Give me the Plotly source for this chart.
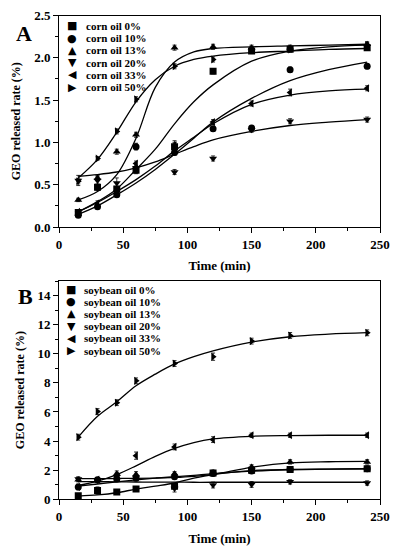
import plotly.graph_objects as go

# ---------------- data ----------------
TIME = [15, 30, 45, 60, 90, 120, 150, 180, 240]
CURVE_T = [15, 30, 45, 60, 75, 90, 105, 120, 150, 180, 210, 240]

LEVELS = ["0%", "10%", "13%", "20%", "33%", "50%"]
SYMBOLS = ["square", "circle", "triangle-up", "triangle-down", "triangle-left", "triangle-right"]
GLYPHS = ["\u25A0", "\u25CF", "\u25B2", "\u25BC", "\u25C0", "\u25B6"]

# Panel A: corn oil
corn_0 = [0.17, 0.47, 0.45, 0.67, 0.95, 1.84, 2.08, 2.10, 2.12]
corn_10 = [0.14, 0.24, 0.38, 0.95, 0.88, 1.16, 1.17, 1.86, 1.90]
corn_13 = [0.32, 0.58, 0.89, 1.09, 2.12, 2.13, 2.12, 2.12, 2.16]
corn_20 = [0.55, 0.55, 0.52, 0.70, 0.65, 0.81, 1.15, 1.25, 1.27]
corn_33 = [0.18, 0.28, 0.43, 0.75, 0.97, 1.24, 1.46, 1.59, 1.64]
corn_50 = [0.54, 0.81, 1.13, 1.51, 1.90, 1.98, 2.10, 2.10, 2.15]

corn_err_0 = [0.02, 0.04, 0.03, 0.04, 0.07, 0.03, 0.03, 0.03, 0.03]
corn_err_10 = [0.02, 0.02, 0.02, 0.04, 0.03, 0.03, 0.03, 0.03, 0.03]
corn_err_13 = [0.02, 0.03, 0.03, 0.03, 0.03, 0.03, 0.03, 0.03, 0.03]
corn_err_20 = [0.06, 0.05, 0.06, 0.03, 0.03, 0.03, 0.03, 0.03, 0.03]
corn_err_33 = [0.02, 0.03, 0.05, 0.03, 0.03, 0.03, 0.03, 0.04, 0.03]
corn_err_50 = [0.03, 0.02, 0.03, 0.03, 0.03, 0.03, 0.03, 0.03, 0.03]

fit_corn_0 = [0.18, 0.30, 0.45, 0.68, 0.92, 1.22, 1.48, 1.68, 1.96, 2.08, 2.13, 2.15]
fit_corn_10 = [0.15, 0.25, 0.38, 0.52, 0.68, 0.86, 1.05, 1.24, 1.52, 1.73, 1.86, 1.95]
fit_corn_13 = [0.32, 0.42, 0.62, 1.05, 1.65, 1.95, 2.07, 2.11, 2.13, 2.14, 2.15, 2.16]
fit_corn_20 = [0.60, 0.62, 0.65, 0.70, 0.77, 0.86, 0.95, 1.03, 1.13, 1.20, 1.24, 1.27]
fit_corn_33 = [0.18, 0.29, 0.42, 0.56, 0.72, 0.90, 1.06, 1.22, 1.45, 1.56, 1.61, 1.63]
fit_corn_50 = [0.58, 0.80, 1.12, 1.48, 1.74, 1.90, 1.98, 2.02, 2.06, 2.08, 2.10, 2.11]

# Panel B: soybean oil
soy_0 = [0.25, 0.60, 0.50, 0.70, 0.90, 1.80, 2.00, 2.05, 2.10]
soy_10 = [0.85, 1.35, 1.40, 1.45, 1.55, 1.77, 1.95, 2.05, 2.10]
soy_13 = [1.35, 1.30, 1.75, 1.70, 1.75, 1.85, 2.22, 2.57, 2.57]
soy_20 = [1.40, 1.30, 1.55, 1.50, 0.75, 0.98, 1.02, 1.20, 1.12]
soy_33 = [0.85, 1.35, 1.60, 3.00, 3.60, 4.10, 4.40, 4.40, 4.40]
soy_50 = [4.27, 6.03, 6.64, 8.14, 9.33, 9.80, 10.87, 11.26, 11.44]

soy_err_0 = [0.15, 0.25, 0.15, 0.15, 0.15, 0.15, 0.15, 0.15, 0.15]
soy_err_10 = [0.15, 0.15, 0.15, 0.15, 0.15, 0.15, 0.15, 0.15, 0.15]
soy_err_13 = [0.15, 0.15, 0.20, 0.20, 0.15, 0.15, 0.15, 0.15, 0.15]
soy_err_20 = [0.15, 0.15, 0.15, 0.15, 0.25, 0.20, 0.20, 0.15, 0.15]
soy_err_33 = [0.20, 0.15, 0.20, 0.25, 0.20, 0.20, 0.15, 0.15, 0.15]
soy_err_50 = [0.20, 0.20, 0.20, 0.20, 0.20, 0.25, 0.20, 0.20, 0.20]

fit_soy_0 = [0.22, 0.30, 0.45, 0.70, 0.90, 1.12, 1.45, 1.70, 1.97, 2.05, 2.08, 2.10]
fit_soy_10 = [0.90, 1.05, 1.20, 1.33, 1.45, 1.55, 1.65, 1.76, 1.93, 2.03, 2.08, 2.10]
fit_soy_13 = [1.42, 1.42, 1.43, 1.44, 1.46, 1.50, 1.58, 1.72, 2.20, 2.50, 2.58, 2.60]
fit_soy_20 = [1.22, 1.21, 1.20, 1.19, 1.18, 1.18, 1.17, 1.17, 1.17, 1.17, 1.17, 1.17]
fit_soy_33 = [0.95, 1.25, 1.70, 2.30, 2.95, 3.50, 3.90, 4.15, 4.33, 4.38, 4.40, 4.40]
fit_soy_50 = [4.27, 5.70, 6.70, 7.80, 8.60, 9.30, 9.80, 10.20, 10.80, 11.17, 11.35, 11.45]

X_TICKS = [0, 50, 100, 150, 200, 250]
A_Y_TICKS = [0.0, 0.5, 1.0, 1.5, 2.0, 2.5]
B_Y_TICKS = [0, 2, 4, 6, 8, 10, 12, 14]

corn_series = [corn_0, corn_10, corn_13, corn_20, corn_33, corn_50]
corn_errs = [corn_err_0, corn_err_10, corn_err_13, corn_err_20, corn_err_33, corn_err_50]
corn_fits = [fit_corn_0, fit_corn_10, fit_corn_13, fit_corn_20, fit_corn_33, fit_corn_50]
soy_series = [soy_0, soy_10, soy_13, soy_20, soy_33, soy_50]
soy_errs = [soy_err_0, soy_err_10, soy_err_13, soy_err_20, soy_err_33, soy_err_50]
soy_fits = [fit_soy_0, fit_soy_10, fit_soy_13, fit_soy_20, fit_soy_33, fit_soy_50]

# ---------------- figure ----------------
W, H = 396, 550
SERIF = "Liberation Serif, Times New Roman, serif"
fig = go.Figure()


def add_panel(series, errs, fits, oil, xa, ya):
    for vals, err, fit, lev, sym in zip(series, errs, fits, LEVELS, SYMBOLS):
        fig.add_trace(go.Scatter(
            x=CURVE_T, y=fit, mode="lines", line=dict(color="black", width=1.3, shape="spline", smoothing=1.0),
            xaxis=xa, yaxis=ya, showlegend=False, hoverinfo="skip"))
        fig.add_trace(go.Scatter(
            x=TIME, y=vals, mode="markers", name=f"{oil} oil {lev}",
            marker=dict(symbol=sym, size=7, color="black"),
            error_y=dict(type="data", array=err, color="black", thickness=0.8, width=2),
            xaxis=xa, yaxis=ya, showlegend=False))


add_panel(corn_series, corn_errs, corn_fits, "corn", "x", "y")
add_panel(soy_series, soy_errs, soy_fits, "soybean", "x2", "y2")

px = lambda v: v / W
py = lambda v: 1 - v / H

tickfont = dict(family=SERIF, size=13, color="black", weight="bold")
titlefont = dict(family=SERIF, size=13, color="black", weight="bold")
ytitlefont = dict(family=SERIF, size=12, color="black", weight="bold")
axis_common = dict(showline=True, linecolor="black", linewidth=1, mirror=True, ticks="outside",
                   ticklen=5, tickwidth=1, tickcolor="black", showgrid=False, zeroline=False,
                   tickfont=tickfont, automargin=False)

fig.update_layout(
    width=W, height=H, margin=dict(l=0, r=0, t=0, b=0),
    paper_bgcolor="white", plot_bgcolor="white", showlegend=False,
    xaxis=dict(domain=[px(59), px(380)], range=[0, 250], tickvals=X_TICKS, anchor="y",
               minor=dict(ticks="outside", ticklen=3, dtick=25, tickcolor="black"),
               title=dict(text="Time (min)", font=titlefont, standoff=10), **axis_common),
    yaxis=dict(domain=[py(227), py(15.5)], range=[0, 2.5], tickvals=A_Y_TICKS, tickformat=".1f", anchor="x",
               minor=dict(ticks="outside", ticklen=3, dtick=0.25, tickcolor="black"),
               title=dict(text="GEO released rate (%)", font=ytitlefont, standoff=10), **axis_common),
    xaxis2=dict(domain=[px(59), px(380)], range=[0, 250], tickvals=X_TICKS, anchor="y2",
                minor=dict(ticks="outside", ticklen=3, dtick=25, tickcolor="black"),
                title=dict(text="Time (min)", font=titlefont, standoff=10), **axis_common),
    yaxis2=dict(domain=[py(499.3), py(281)], range=[0, 15], tickvals=B_Y_TICKS, anchor="x2",
                minor=dict(ticks="outside", ticklen=3, dtick=1, tickcolor="black"),
                title=dict(text="GEO released rate (%)", font=ytitlefont, standoff=10), **axis_common),
)

annotations = [
    dict(text="<b>A</b>", x=px(24), y=py(33.5), xref="paper", yref="paper", showarrow=False,
         xanchor="center", yanchor="middle", font=dict(family=SERIF, size=22, color="black")),
    dict(text="<b>B</b>", x=px(25), y=py(296), xref="paper", yref="paper", showarrow=False,
         xanchor="center", yanchor="middle", font=dict(family=SERIF, size=22, color="black")),
]

legend_font = dict(family=SERIF, size=11, color="black", weight="bold")
glyph_font = dict(family="DejaVu Sans", size=11, color="black")
for panel_top, glyph_x, text_x, oil in [(26, 72, 84, "corn"), (289.5, 71, 82, "soybean")]:
    for i, (lev, g) in enumerate(zip(LEVELS, GLYPHS)):
        yy = panel_top + i * 12.2
        annotations.append(dict(text=g, x=px(glyph_x), y=py(yy), xref="paper", yref="paper",
                                showarrow=False, xanchor="center", yanchor="middle", font=glyph_font))
        annotations.append(dict(text=f"{oil} oil {lev}", x=px(text_x), y=py(yy), xref="paper", yref="paper",
                                showarrow=False, xanchor="left", yanchor="middle", font=legend_font))

fig.update_layout(annotations=annotations)
fig.write_html("out.html", config={"displayModeBar": False},
               post_script="document.body.style.margin='0px';")
